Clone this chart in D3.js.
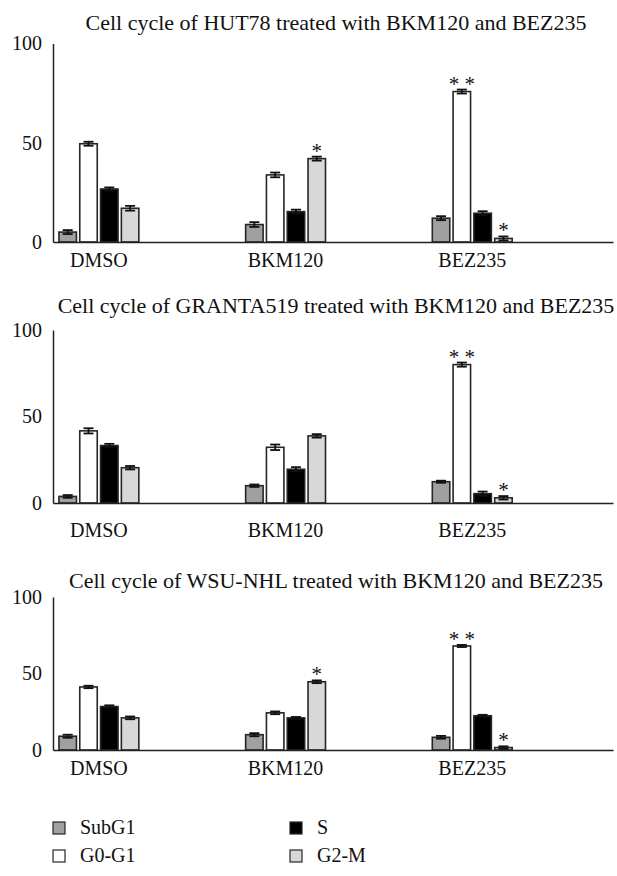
<!DOCTYPE html>
<html>
<head>
<meta charset="utf-8">
<script src="https://cdn.jsdelivr.net/npm/d3@7"></script>
<style>
  html, body { margin: 0; padding: 0; background: #fff; }
  svg { display: block; }
  text { font-family: "Liberation Serif", "Times New Roman", serif; fill: #111; }
</style>
</head>
<body>
<script>
// ---------- data ----------
const categories = ["DMSO", "BKM120", "BEZ235"];
const series = ["SubG1", "G0-G1", "S", "G2-M"];
const seriesColors = ["#a0a0a0", "#ffffff", "#000000", "#d8d8d8"];
const yTicks = [0, 50, 100];

const panelTitles = [
  "Cell cycle of HUT78 treated with BKM120 and BEZ235",
  "Cell cycle of GRANTA519 treated with BKM120 and BEZ235",
  "Cell cycle of WSU-NHL treated with BKM120 and BEZ235"
];

// values per category (rows) and series (columns)
const hut78Values = [
  [5.0, 49.5, 26.7, 17.0],
  [8.8, 33.8, 15.3, 42.0],
  [12.0, 75.8, 14.5, 1.8]
];
const hut78Errors = [
  [1.0, 1.0, 0.8, 1.2],
  [1.2, 1.2, 1.0, 1.0],
  [1.0, 1.0, 1.0, 1.0]
];
const granta519Values = [
  [3.8, 41.7, 33.2, 20.4],
  [10.0, 32.2, 19.5, 38.8],
  [12.3, 80.0, 5.4, 3.0]
];
const granta519Errors = [
  [0.8, 1.5, 1.0, 1.0],
  [0.7, 1.6, 1.2, 1.0],
  [0.6, 1.2, 1.2, 1.0]
];
const wsuValues = [
  [9.0, 41.2, 28.4, 21.0],
  [10.0, 24.3, 21.0, 44.6],
  [8.3, 68.0, 22.4, 1.6]
];
const wsuErrors = [
  [1.0, 0.8, 0.8, 0.9],
  [1.0, 0.9, 0.6, 0.9],
  [0.9, 0.7, 0.6, 0.8]
];

const allValues = [hut78Values, granta519Values, wsuValues];
const allErrors = [hut78Errors, granta519Errors, wsuErrors];

// significance marks: panel index, category, series, label
const marks = [
  { panel: 0, category: "BKM120", series: "G2-M", label: "*" },
  { panel: 0, category: "BEZ235", series: "G0-G1", label: "* *" },
  { panel: 0, category: "BEZ235", series: "G2-M", label: "*" },
  { panel: 1, category: "BEZ235", series: "G0-G1", label: "* *" },
  { panel: 1, category: "BEZ235", series: "G2-M", label: "*" },
  { panel: 2, category: "BKM120", series: "G2-M", label: "*" },
  { panel: 2, category: "BEZ235", series: "G0-G1", label: "* *" },
  { panel: 2, category: "BEZ235", series: "G2-M", label: "*" }
];

// ---------- layout ----------
const W = 617, H = 876;
const panels = [
  { y0: 242, y100: 43.5, titleY: 30, labelY: 267 },
  { y0: 503, y100: 330, titleY: 313, labelY: 537 },
  { y0: 750, y100: 597, titleY: 588, labelY: 775 }
];
const axisX0 = 53, axisX1 = 613;

const svg = d3.select("body").append("svg")
  .attr("width", W).attr("height", H);

const x0 = d3.scaleBand().domain(categories).range([axisX0, axisX1]).padding(0);
const x1 = d3.scaleBand().domain(series).range([4.3, 87.5]).paddingInner(0.16).paddingOuter(0.08);
const color = d3.scaleOrdinal().domain(series).range(seriesColors);
const groupCenter = (x1.range()[0] + x1.range()[1]) / 2;

panels.forEach((p, pi) => {
  const y = d3.scaleLinear().domain([0, 100]).range([p.y0, p.y100]);
  const g = svg.append("g");
  const vals = allValues[pi], errs = allErrors[pi];

  // title
  g.append("text")
    .attr("x", 336).attr("y", p.titleY)
    .attr("text-anchor", "middle")
    .style("font-size", "22px")
    .text(panelTitles[pi]);

  // bars
  const data = [];
  categories.forEach((c, ci) => series.forEach((s, si) => {
    data.push({ c, s, v: vals[ci][si], e: errs[ci][si] });
  }));

  g.selectAll("rect.bar").data(data).join("rect")
    .attr("class", "bar")
    .attr("x", d => x0(d.c) + x1(d.s))
    .attr("width", x1.bandwidth())
    .attr("y", d => y(d.v))
    .attr("height", d => y(0) - y(d.v))
    .attr("fill", d => color(d.s))
    .attr("stroke", "#262626")
    .attr("stroke-width", 1.6);

  // error bars
  const eb = g.selectAll("g.err").data(data).join("g").attr("class", "err")
    .attr("stroke", "#111").attr("stroke-width", 1.8);
  const cx = d => x0(d.c) + x1(d.s) + x1.bandwidth() / 2;
  eb.append("line")
    .attr("x1", cx).attr("x2", cx)
    .attr("y1", d => y(d.v - d.e)).attr("y2", d => y(d.v + d.e));
  eb.append("line")
    .attr("x1", d => cx(d) - 5).attr("x2", d => cx(d) + 5)
    .attr("y1", d => y(d.v + d.e)).attr("y2", d => y(d.v + d.e));
  eb.append("line")
    .attr("x1", d => cx(d) - 5).attr("x2", d => cx(d) + 5)
    .attr("y1", d => y(d.v - d.e)).attr("y2", d => y(d.v - d.e));

  // significance marks
  const pm = marks.filter(m => m.panel === pi);
  g.selectAll("text.sig").data(pm).join("text")
    .attr("class", "sig")
    .attr("x", m => x0(m.category) + x1(m.series) + x1.bandwidth() / 2)
    .attr("y", m => {
      const ci = categories.indexOf(m.category), si = series.indexOf(m.series);
      return y(vals[ci][si] + errs[ci][si]) + 1;
    })
    .attr("text-anchor", "middle")
    .style("font-size", "21px")
    .text(m => m.label);

  // y axis
  const yAxis = g.append("g")
    .attr("transform", `translate(${axisX0},0)`)
    .call(d3.axisLeft(y).tickValues(yTicks).tickFormat(d3.format("d")).tickSize(0).tickPadding(11));
  yAxis.select(".domain").attr("stroke", "#222").attr("stroke-width", 1.5);
  yAxis.selectAll("text").style("font-size", "20px").style("font-family", '"Liberation Serif", serif').attr("fill", "#111");

  // x axis
  const xAxis = g.append("g")
    .attr("transform", `translate(0,${p.y0})`)
    .call(d3.axisBottom(x0).tickSize(0).tickPadding(0));
  xAxis.select(".domain").attr("stroke", "#222").attr("stroke-width", 1.5);
  xAxis.selectAll("text")
    .attr("dx", groupCenter - x0.bandwidth() / 2)
    .attr("y", p.labelY - p.y0).attr("dy", 0)
    .style("font-size", "20px").style("font-family", '"Liberation Serif", serif').attr("fill", "#111");
});

// legend
const legendItems = [
  { s: "SubG1", x: 53, y: 822 },
  { s: "S", x: 290, y: 822 },
  { s: "G0-G1", x: 53, y: 850 },
  { s: "G2-M", x: 290, y: 850 }
];
const lg = svg.append("g");
lg.selectAll("rect").data(legendItems).join("rect")
  .attr("x", d => d.x).attr("y", d => d.y)
  .attr("width", 12).attr("height", 12)
  .attr("fill", d => color(d.s))
  .attr("stroke", "#262626").attr("stroke-width", 1.2);
lg.selectAll("text").data(legendItems).join("text")
  .attr("x", d => d.x + 27).attr("y", d => d.y + 12)
  .style("font-size", "20px")
  .text(d => d.s);
</script>
</body>
</html>
